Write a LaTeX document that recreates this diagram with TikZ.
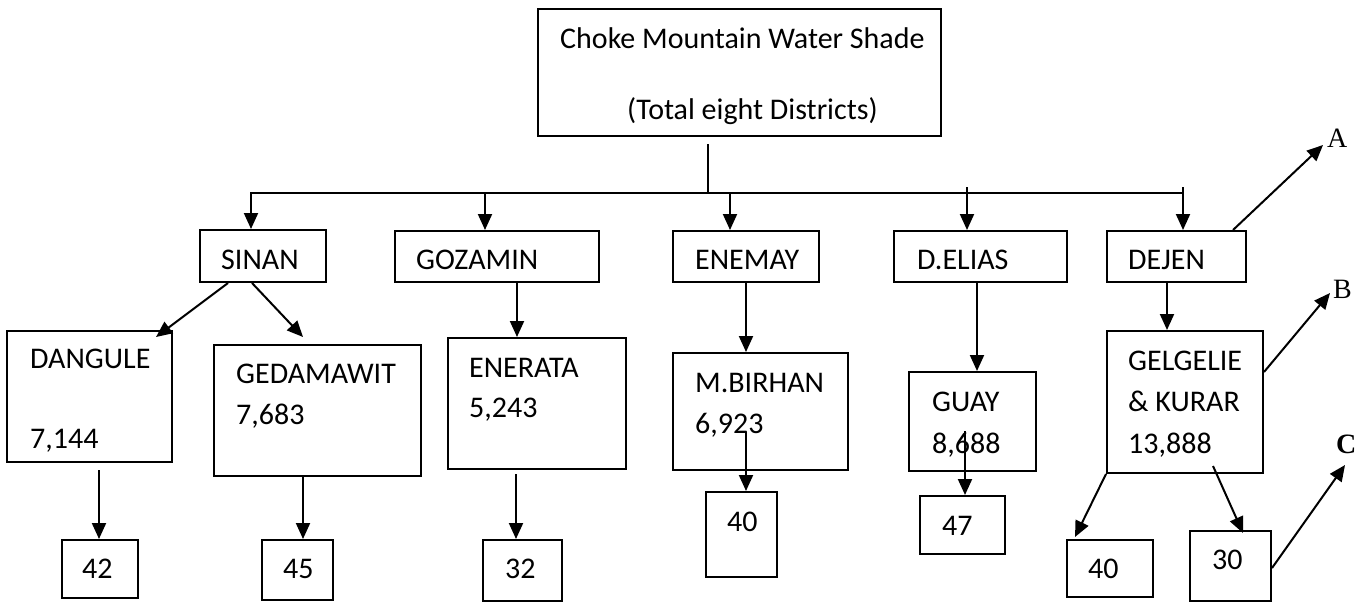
\documentclass[tikz,border=0pt]{standalone}
\usepackage{fontspec}
\setmainfont{Carlito}
\newfontfamily\labelserif{Liberation Serif}
\usetikzlibrary{arrows.meta,fit}
\tikzset{
  box/.style={draw, line width=2pt, inner sep=0pt},
  txt/.style={anchor=base west, inner sep=0pt, font=\fontsize{30}{36}\selectfont},
  lbl/.style={anchor=base west, inner sep=0pt, font=\labelserif\fontsize{28}{32}\selectfont},
  conn/.style={line width=2pt},
  arr/.style={line width=2pt, -{Triangle[length=16pt,width=14pt]}}
}
\begin{document}
\begin{tikzpicture}[x=1pt,y=-1pt]
\useasboundingbox (0,0) rectangle (1370,603);
% boxes
\node[box, fit={(538,9) (941,136)}] (top) {};
\node[box, fit={(200,230) (326,282)}] (sinan) {};
\node[box, fit={(395,231) (599,282)}] (gozamin) {};
\node[box, fit={(673,231) (819,282)}] (enemay) {};
\node[box, fit={(894,231) (1067,282)}] (delias) {};
\node[box, fit={(1107,231) (1246,282)}] (dejen) {};
\node[box, fit={(7,331) (172,462)}] (dangule) {};
\node[box, fit={(214,345) (421,476)}] (gedamawit) {};
\node[box, fit={(448,338) (626,469)}] (enerata) {};
\node[box, fit={(673,353) (848,470)}] (mbirhan) {};
\node[box, fit={(909,372) (1036,471)}] (guay) {};
\node[box, fit={(1107,331) (1263,473)}] (gelgelie) {};
\node[box, fit={(62,540) (138,598)}] (n42) {};
\node[box, fit={(262,540) (333,600)}] (n45) {};
\node[box, fit={(483,540) (562,601)}] (n32) {};
\node[box, fit={(706,492) (777,577)}] (n40a) {};
\node[box, fit={(920,496) (1005,554)}] (n47) {};
\node[box, fit={(1067,540) (1153,597)}] (n40b) {};
\node[box, fit={(1190,531) (1271,601)}] (n30) {};
% texts
\node[txt] (t1) at (560,48) {Choke Mountain Water Shade};
\node[txt] (t2) at (627,119) {(Total eight Districts)};
\node[txt] (tsinan) at (221,269) {SINAN};
\node[txt] (tgozamin) at (416,269) {GOZAMIN};
\node[txt] (tenemay) at (695,269) {ENEMAY};
\node[txt] (tdelias) at (917,269) {D.ELIAS};
\node[txt] (tdejen) at (1128,269) {DEJEN};
\node[txt] (tdangule) at (30,368) {DANGULE};
\node[txt] (vdangule) at (30,448) {7,144};
\node[txt] (tgedamawit) at (236,383) {GEDAMAWIT};
\node[txt] (vgedamawit) at (236,424) {7,683};
\node[txt] (tenerata) at (469,377) {ENERATA};
\node[txt] (venerata) at (469,417) {5,243};
\node[txt] (tmbirhan) at (695,392) {M.BIRHAN};
\node[txt] (vmbirhan) at (695,433) {6,923};
\node[txt] (tguay) at (932,411) {GUAY};
\node[txt] (vguay) at (932,453) {8,688};
\node[txt] (tgel1) at (1128,370) {GELGELIE};
\node[txt] (tgel2) at (1128,411) {\& KURAR};
\node[txt] (vgel) at (1128,453) {13,888};
\node[txt] (t42) at (82,578) {42};
\node[txt] (t45) at (283,578) {45};
\node[txt] (t32) at (505,578) {32};
\node[txt] (t40a) at (727,531) {40};
\node[txt] (t47) at (942,535) {47};
\node[txt] (t40b) at (1088,578) {40};
\node[txt] (t30) at (1212,569) {30};
\node[lbl] (A) at (1327,147) {A};
\node[lbl] (B) at (1333,298) {B};
\node[lbl, font=\labelserif\bfseries\fontsize{28}{32}\selectfont] (C) at (1336,453) {C};
% tree connectors
\coordinate (stem) at (708,144);
\coordinate (busL) at (250,193);
\coordinate (busR) at (1183,193);
\draw[conn] (stem) -- (stem |- busL);
\draw[conn] (busL) -- (busR);
\draw[arr] (busL -| 251,0) -- (sinan.north -| 251,0);
\draw[arr] (busL -| 485,0) -- (gozamin.north -| 485,0);
\draw[arr] (busL -| 730,0) -- (enemay.north -| 730,0);
\draw[arr] (967,187) -- (delias.north -| 967,0);
\draw[arr] (1183,187) -- (dejen.north -| 1183,0);
% second level
\draw[arr] (sinan.south -| 228,0) -- (156,337);
\draw[arr] (sinan.south -| 252,0) -- (303,337);
\draw[arr] (gozamin.south -| 517,0) -- (517,337);
\draw[arr] (enemay.south -| 746,0) -- (mbirhan.north -| 746,0);
\draw[arr] (delias.south -| 977,0) -- (guay.north -| 977,0);
\draw[arr] (dejen.south -| 1167,0) -- (gelgelie.north -| 1167,0);
% third level
\draw[arr] (99,470) -- (n42.north -| 99,0);
\draw[arr] (gedamawit.south -| 303,0) -- (n45.north -| 303,0);
\draw[arr] (516,474) -- (n32.north -| 516,0);
\draw[arr] (746,432) -- (n40a.north -| 746,0);
\draw[arr] (965,431) -- (n47.north -| 965,0);
\draw[arr] (gelgelie.south west) -- (1075,537);
\draw[arr] (1213,466) -- (1243,533);
% outgoing arrows
\draw[arr] (dejen.north -| 1233,0) -- (1323,145);
\draw[arr] (gelgelie.east |- 0,372) -- (1330,293);
\draw[arr] (n30.east |- 0,568) -- (1345,465);
\end{tikzpicture}
\end{document}
